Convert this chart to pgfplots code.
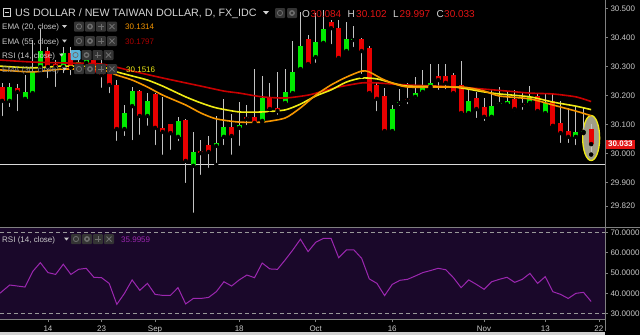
\documentclass[border=0pt]{standalone}
\usepackage{fontspec}
\setmainfont{Liberation Sans}
\usepackage{pgfplots}
\pgfplotsset{compat=1.18}
\usepackage{pgfplotstable}

\definecolor{candlegreen}{RGB}{0,235,0}
\definecolor{candlered}{RGB}{232,0,0}
\definecolor{wick}{RGB}{195,195,195}
\definecolor{ema20}{RGB}{245,150,0}
\definecolor{ema55}{RGB}{200,0,0}
\definecolor{ema30}{RGB}{240,235,20}
\definecolor{rsiline}{RGB}{156,39,176}
\definecolor{rsibg}{RGB}{26,8,42}
\definecolor{axgray}{RGB}{128,128,128}
\definecolor{ticklab}{RGB}{200,200,200}
\definecolor{titlegray}{RGB}{212,212,212}
\definecolor{leggray}{RGB}{200,200,200}
\definecolor{ohlcred}{RGB}{225,20,20}
\definecolor{iconbg}{RGB}{52,52,52}
\definecolor{iconfg}{RGB}{110,110,110}
\definecolor{iconblue}{RGB}{90,180,220}
\definecolor{boxred}{RGB}{225,20,20}
\definecolor{val55}{RGB}{170,0,0}

\pgfplotstableread{
i o h l c
-5 30.182 30.244 30.154 30.230
-3 30.189 30.271 30.182 30.213
-2 30.209 30.392 30.202 30.282
-1 30.299 30.430 30.289 30.354
2 30.299 30.368 30.271 30.347
4 30.302 30.358 30.271 30.316
5 30.313 30.351 30.289 30.327
10 30.085 30.168 30.054 30.140
11 30.164 30.230 30.040 30.216
13 30.130 30.209 30.089 30.182
17 30.058 30.127 30.037 30.113
19 29.958 30.075 29.789 30.006
22 30.027 30.130 29.961 30.037
23 30.058 30.189 30.023 30.092
25 30.089 30.178 30.020 30.099
28 30.113 30.268 30.111 30.192
31 30.175 30.292 30.173 30.213
32 30.209 30.389 30.207 30.282
33 30.292 30.489 30.290 30.371
35 30.333 30.485 30.306 30.385
36 30.382 30.496 30.380 30.430
39 30.354 30.454 30.344 30.396
40 30.392 30.440 30.361 30.396
45 30.078 30.168 30.076 30.154
46 30.175 30.223 30.158 30.178
48 30.196 30.264 30.182 30.209
49 30.213 30.289 30.209 30.230
50 30.230 30.309 30.223 30.244
55 30.140 30.223 30.138 30.182
58 30.127 30.220 30.125 30.164
59 30.171 30.230 30.161 30.175
60 30.171 30.216 30.161 30.182
63 30.175 30.233 30.161 30.196
65 30.140 30.209 30.127 30.175
69 30.058 30.164 30.023 30.075
70 30.075 30.161 30.071 30.078
}\greentab

\pgfplotstableread{
i o h l c
-6 30.230 30.244 30.123 30.182
-4 30.227 30.240 30.140 30.213
0 30.354 30.368 30.254 30.299
1 30.309 30.323 30.223 30.299
3 30.347 30.368 30.264 30.296
6 30.323 30.347 30.264 30.275
7 30.302 30.323 30.220 30.271
8 30.275 30.296 30.202 30.237
9 30.237 30.254 30.037 30.085
12 30.216 30.218 30.058 30.130
14 30.206 30.209 30.023 30.089
15 30.089 30.196 29.989 30.075
16 30.102 30.104 30.006 30.071
18 30.116 30.118 29.892 29.975
20 30.009 30.047 29.920 30.002
21 30.030 30.061 29.944 30.006
24 30.092 30.137 29.989 30.061
26 30.127 30.168 30.092 30.120
27 30.127 30.292 30.092 30.106
29 30.192 30.244 30.137 30.154
30 30.158 30.282 30.127 30.147
34 30.396 30.409 30.306 30.309
37 30.454 30.461 30.371 30.433
38 30.433 30.461 30.323 30.330
41 30.396 30.398 30.268 30.354
42 30.364 30.371 30.207 30.209
43 30.237 30.244 30.140 30.189
44 30.199 30.227 30.075 30.078
47 30.189 30.244 30.164 30.185
51 30.268 30.309 30.213 30.254
52 30.268 30.309 30.216 30.244
53 30.271 30.278 30.207 30.209
54 30.237 30.320 30.138 30.140
56 30.192 30.213 30.116 30.154
57 30.161 30.192 30.106 30.127
61 30.189 30.220 30.140 30.154
62 30.171 30.209 30.144 30.168
64 30.199 30.209 30.145 30.147
66 30.182 30.209 30.094 30.096
67 30.106 30.182 30.030 30.071
68 30.078 30.158 30.030 30.058
71 30.084 30.102 29.997 30.033
}\redtab

\newcommand{\iconrow}[3]{% x, ytop, first colour
  \fill[#3, rounded corners=1pt] (#1pt,-#2pt) rectangle ++(10pt,-10pt);
  \fill[iconbg, rounded corners=1pt] ({#1pt+11pt},-#2pt) rectangle ++(10pt,-10pt);
  \fill[iconbg, rounded corners=1pt] ({#1pt+22pt},-#2pt) rectangle ++(10pt,-10pt);
  \fill[iconbg, rounded corners=1pt] ({#1pt+33pt},-#2pt) rectangle ++(10pt,-10pt);
  \draw[iconfg, line width=0.8pt] ({#1pt+5pt},{-#2pt-5pt}) circle (2.6pt);
  \draw[iconfg, line width=1.4pt] ({#1pt+16pt},{-#2pt-5pt}) circle (2.2pt);
  \draw[iconfg, line width=0.9pt] ({#1pt+24pt},{-#2pt-5pt}) -- ++(6pt,0pt) ({#1pt+27pt},{-#2pt-2pt}) -- ++(0pt,-6pt);
  \draw[iconfg, line width=0.9pt] ({#1pt+35.5pt},{-#2pt-2.5pt}) -- ++(5pt,-5pt) ({#1pt+40.5pt},{-#2pt-2.5pt}) -- ++(-5pt,-5pt);
}
\newcommand{\tri}[2]{\fill[leggray] (#1pt,-#2pt) -- ++(5pt,0pt) -- ++(-2.5pt,-3pt) -- cycle;}

\begin{document}
\begin{tikzpicture}
\fill[black] (0pt,0pt) rectangle (640pt,-335pt);

\begin{axis}[
  name=price, at={(0pt,0pt)}, anchor=north west, scale only axis,
  width=605pt, height=227pt,
  xmin=-6.27, xmax=72.81, ymin=29.7472, ymax=30.530,
  axis line style={draw=none},
  xtick=\empty,
  ytick={29.82,29.9,30,30.1,30.2,30.3,30.4,30.5},
  ytick pos=right, yticklabel pos=right,
  tick align=outside, major tick length=3pt,
  tick style={axgray, line width=0.6pt},
  yticklabel style={font=\fontsize{8}{9}\selectfont, text=ticklab, xshift=-1pt},
  /pgf/number format/fixed, /pgf/number format/fixed zerofill,
  /pgf/number format/precision=3, /pgf/number format/assume math mode=true,
]
\addplot[color=white!85!black, line width=1.4pt] coordinates {(-6.27,29.963) (72.81,29.963)};
\draw[draw=ema30, line width=1.3pt, fill=gray!75!olive!60, fill opacity=0.85] (axis cs:71,30.054) ellipse [x radius=8.5pt, y radius=22.5pt];
% wicks
\addplot[only marks, mark=none, error bars/.cd, y dir=plus, y explicit, error mark=none, error bar style={line width=1pt, color=wick}]
  table[x=i, y=l, y error expr=\thisrow{h}-\thisrow{l}] {\greentab};
\addplot[only marks, mark=none, error bars/.cd, y dir=plus, y explicit, error mark=none, error bar style={line width=1pt, color=wick}]
  table[x=i, y=l, y error expr=\thisrow{h}-\thisrow{l}] {\redtab};
% bodies
\addplot[only marks, mark=none, error bars/.cd, y dir=plus, y explicit, error mark=none, error bar style={line width=5pt, color=candlegreen}]
  table[x=i, y=o, y error expr=\thisrow{c}-\thisrow{o}] {\greentab};
\addplot[only marks, mark=none, error bars/.cd, y dir=plus, y explicit, error mark=none, error bar style={line width=5pt, color=candlered}]
  table[x=i, y=c, y error expr=\thisrow{o}-\thisrow{c}] {\redtab};
% EMA 55
\addplot[color=ema55, line width=1.6pt, smooth, tension=0.4] coordinates {
(-6.3,30.323) (-2,30.316) (2,30.313) (7,30.309) (11,30.285) (15,30.261) (20,30.233) (23,30.216) (25,30.209) (28,30.196) (31,30.192) (34,30.202) (36,30.216) (38,30.230) (41,30.244) (43,30.244) (47,30.237) (51,30.233) (55,30.227) (60,30.216) (63,30.209) (66,30.206) (69,30.196) (71,30.180)};
% EMA 30
\addplot[color=ema30, line width=1.6pt, smooth, tension=0.4] coordinates {
(-6.3,30.302) (-2,30.296) (2,30.302) (7,30.299) (9,30.282) (11,30.268) (13,30.254) (15,30.233) (18,30.196) (20,30.175) (22,30.158) (25,30.144) (28,30.144) (31,30.151) (33,30.171) (35,30.199) (37,30.220) (39,30.247) (41,30.261) (43,30.258) (45,30.244) (47,30.233) (53,30.230) (57,30.213) (59,30.206) (63,30.196) (66,30.178) (69,30.164) (71,30.152)};
% EMA 20
\addplot[color=ema20, line width=1.6pt, smooth, tension=0.4] coordinates {
(-6.3,30.289) (-2,30.282) (2,30.292) (7,30.289) (9,30.271) (11,30.254) (13,30.230) (15,30.202) (18,30.168) (20,30.140) (22,30.120) (25,30.109) (28,30.109) (31,30.123) (33,30.158) (35,30.202) (37,30.237) (39,30.264) (41,30.285) (42,30.282) (44,30.254) (47,30.230) (54,30.230) (57,30.216) (59,30.199) (63,30.189) (66,30.168) (69,30.147) (71,30.131)};
\end{axis}

\begin{axis}[
  name=rsi, at={(0pt,-228pt)}, anchor=north west, scale only axis,
  width=605pt, height=91pt,
  xmin=-6.27, xmax=72.81, ymin=27.4, ymax=72.1,
  axis background/.style={fill=rsibg},
  axis line style={draw=none},
  xtick={0,7,14,25,35,45,57,65,72},
  xticklabels={14,23,Sep,18,Oct,16,Nov,13,22},
  xtick pos=bottom,
  ytick={30,40,50,60,70},
  ytick pos=right, yticklabel pos=right,
  tick align=outside, major tick length=3pt,
  tick style={axgray, line width=0.6pt},
  yticklabel style={font=\fontsize{8}{9}\selectfont, text=ticklab, xshift=-1pt},
  xticklabel style={font=\fontsize{8}{9}\selectfont, text=ticklab},
  /pgf/number format/fixed, /pgf/number format/fixed zerofill,
  /pgf/number format/precision=4, /pgf/number format/assume math mode=true,
]
\addplot[color=axgray!80!white, dash pattern=on 4pt off 3pt, line width=0.8pt] coordinates {(-6.27,70) (72.81,70)};
\addplot[color=axgray!80!white, dash pattern=on 4pt off 3pt, line width=0.8pt] coordinates {(-6.27,30) (72.81,30)};
\addplot[color=rsiline, line width=1pt] coordinates {
(-6.3,40.0) (-5,44.1) (-4,43.6) (-3,43.1) (-2,50.7) (-1,55.1) (0,50.2) (1,49.3) (2,54.3) (3,49.3) (4,51.8) (5,52.3) (6,47.9) (7,47.7) (8,44.9) (9,34.6) (10,40.0) (11,46.6) (12,41.5) (13,44.9) (14,39.5) (15,39.0) (16,39.0) (17,42.8) (18,34.8) (19,37.5) (20,37.5) (21,38.0) (22,40.8) (23,45.7) (24,43.6) (25,46.6) (26,49.0) (27,47.7) (28,54.9) (29,52.0) (30,51.8) (31,56.4) (32,61.3) (33,66.6) (34,60.5) (35,65.1) (36,67.0) (37,67.0) (38,57.5) (39,61.3) (40,61.3) (41,57.2) (42,47.1) (43,44.9) (44,38.9) (45,44.4) (46,46.4) (47,46.9) (48,48.5) (49,50.2) (50,51.2) (51,52.3) (52,51.6) (53,47.7) (54,42.8) (55,46.6) (56,44.4) (57,42.0) (58,45.7) (59,46.9) (60,47.9) (61,45.4) (62,46.9) (63,49.8) (64,44.9) (65,48.2) (66,40.8) (67,39.5) (68,37.5) (69,40.0) (70,40.5) (71,36.0)};
\end{axis}

% frame lines
\draw[axgray, line width=0.8pt] (605pt,0pt) -- (605pt,-331pt);
\draw[axgray, line width=0.8pt] (0pt,-227pt) -- (640pt,-227pt);
\draw[axgray, line width=0.8pt] (0pt,-319.5pt) -- (605pt,-319.5pt);
\fill[white!82!black] (0pt,-332pt) rectangle (605pt,-335pt);

% current price box
\node[fill=boxred, text=white, anchor=west, inner xsep=2.5pt, inner ysep=1.6pt, font=\bfseries\fontsize{8}{9}\selectfont] at (605.5pt,-144.1pt) {30.033};

% header
\draw[titlegray, line width=0.8pt] (3pt,-8.8pt) rectangle (10.5pt,-16.3pt);
\draw[titlegray, line width=0.8pt] (4.8pt,-12.55pt) -- (8.7pt,-12.55pt);
\node[anchor=base west, inner sep=0pt, font=\fontsize{10.7}{12}\selectfont, text=titlegray] at (15pt,-16.7pt) {US DOLLAR / NEW TAIWAN DOLLAR, D, FX\_IDC};
\fill[titlegray] (263pt,-11pt) -- ++(6pt,0pt) -- ++(-3pt,-3.5pt) -- cycle;
\fill[iconbg, rounded corners=1pt] (275pt,-8pt) rectangle ++(10pt,-10pt);
\fill[iconbg, rounded corners=1pt] (287pt,-8pt) rectangle ++(10pt,-10pt);
\draw[iconfg, line width=0.8pt] (280pt,-13pt) circle (2.6pt);
\draw[iconfg, line width=1.4pt] (292pt,-13pt) circle (2.2pt);
\begin{scope}[every node/.style={anchor=base west, inner sep=0pt, font=\fontsize{10}{12}\selectfont}]
\node[text=titlegray] at (302pt,-17pt) {O};
\node[text=ohlcred] at (310.5pt,-17pt) {30.084};
\node[text=titlegray] at (347.5pt,-17pt) {H};
\node[text=ohlcred] at (356pt,-17pt) {30.102};
\node[text=titlegray] at (393pt,-17pt) {L};
\node[text=ohlcred] at (399.5pt,-17pt) {29.997};
\node[text=titlegray] at (436.5pt,-17pt) {C};
\node[text=ohlcred] at (444pt,-17pt) {30.033};
\end{scope}

% legends
\begin{scope}[every node/.style={anchor=base west, inner sep=0pt, font=\fontsize{8}{10}\selectfont}]
\node[text=leggray] at (2pt,-29.5pt) {EMA (20, close)};
\tri{62}{25}
\iconrow{74}{21.5}{iconbg}
\node[text=ema20] at (125pt,-29.5pt) {30.1314};

\node[text=leggray] at (2pt,-44pt) {EMA (55, close)};
\tri{62}{39.5}
\iconrow{74}{36}{iconbg}
\node[text=val55] at (125pt,-44pt) {30.1797};

\node[text=leggray] at (2pt,-58pt) {RSI (14, close)};
\tri{59}{53.5}
\iconrow{70.5}{50}{iconblue}
\node[text=leggray!70!black] at (2pt,-72pt) {EMA (30, close)};
\tri{62}{67.5}
\iconrow{74}{64}{iconbg}
\node[text=ema30] at (126pt,-72pt) {30.1516};

\node[text=leggray] at (2pt,-242pt) {RSI (14, close)};
\tri{64}{237.5}
\iconrow{71}{234}{iconbg}
\node[text=rsiline] at (121pt,-242pt) {35.9959};
\end{scope}

\pgfresetboundingbox
\useasboundingbox (0pt,0pt) rectangle (640pt,-335pt);
\end{tikzpicture}
\end{document}
